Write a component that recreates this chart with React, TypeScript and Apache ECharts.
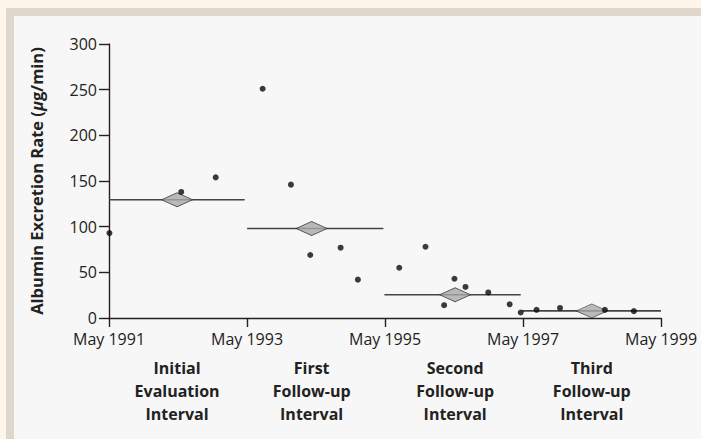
import React, { useEffect, useRef } from "react";
import * as echarts from "echarts";

// Decimal years (May 1991 = 1991 + 4/12)
const START = 1991 + 4 / 12;
const END = 1999 + 4 / 12;

const tickYears = [1991, 1993, 1995, 1997, 1999];

const pointYears = [
  1991.34, 1992.38, 1992.88, 1993.56, 1993.97, 1994.25, 1994.69, 1994.94,
  1995.54, 1995.92, 1996.19, 1996.34, 1996.5, 1996.83, 1997.14, 1997.3,
  1997.53, 1997.87, 1998.52, 1998.94,
];
const pointValues = [
  93, 138, 154, 251, 146, 69, 77, 42, 55, 78, 14, 43, 34, 28, 15, 6, 9, 11, 9,
  7.5,
];

const intervalNames = [
  "Initial\nEvaluation\nInterval",
  "First\nFollow-up\nInterval",
  "Second\nFollow-up\nInterval",
  "Third\nFollow-up\nInterval",
];
const intervalStarts = [1991.333, 1993.335, 1995.325, 1997.32];
const intervalEnds = [1993.3, 1995.31, 1997.3, 1999.333];
const intervalMeans = [129.5, 98, 25.5, 7.8];
const intervalCenters = [1992.32, 1994.27, 1996.35, 1998.33];

const FONT = "Open Sans";

export default function App() {
  const ref = useRef<HTMLDivElement>(null);
  useEffect(() => {
    if (!ref.current) return;
    const chart = echarts.init(ref.current, null, { renderer: "svg" });
    const tickVals = tickYears.map((y) => y + 4 / 12);
    const lineSeries = intervalStarts.map((s, i) => ({
      type: "line",
      data: [
        [s, intervalMeans[i]],
        [intervalEnds[i], intervalMeans[i]],
      ],
      symbol: "none",
      lineStyle: { color: "#444", width: 1.6 },
      z: 2,
      silent: true,
    }));
    chart.setOption({
      animation: false,
      backgroundColor: "transparent",
      grid: { left: 109, right: 40, top: 44, bottom: 121 },
      xAxis: [
        {
          type: "value",
          min: START,
          max: END,
          axisLine: { show: true, lineStyle: { color: "#222", width: 1.4 } },
          axisTick: {
            show: true,
            length: 9,
            customValues: tickVals,
            lineStyle: { color: "#222", width: 1.4 },
          },
          axisLabel: {
            customValues: tickVals,
            formatter: (v: number) => "May " + Math.round(v - 4 / 12),
            fontFamily: FONT,
            fontSize: 16,
            lineHeight: 16,
            color: "#222",
            margin: 13,
          },
          splitLine: { show: false },
        },
        {
          type: "value",
          position: "bottom",
          offset: 30,
          min: START,
          max: END,
          axisLine: { show: false },
          axisTick: { show: false },
          axisLabel: {
            customValues: intervalCenters,
            formatter: (v: number) => {
              const idx = intervalCenters.findIndex((c) => Math.abs(c - v) < 0.01);
              return idx >= 0 ? intervalNames[idx] : "";
            },
            fontFamily: FONT,
            fontSize: 16,
            fontWeight: "bold",
            color: "#222",
            lineHeight: 23,
            margin: 8,
          },
          splitLine: { show: false },
        },
      ],
      yAxis: {
        type: "value",
        min: 0,
        max: 300,
        interval: 50,
        axisLine: { show: true, lineStyle: { color: "#222", width: 1.4 } },
        axisTick: { show: true, length: 10, lineStyle: { color: "#222", width: 1.4 } },
        axisLabel: {
          fontFamily: FONT,
          fontSize: 16,
          lineHeight: 12,
          color: "#222",
          margin: 12,
        },
        splitLine: { show: false },
        name: "{b|Albumin Excretion Rate (}{i|μ}{b|g/min)}",
        nameLocation: "middle",
        nameGap: 64,
        nameTextStyle: {
          rich: {
            b: { fontFamily: FONT, fontSize: 16.5, fontWeight: "bold", color: "#222" },
            i: {
              fontFamily: FONT,
              fontSize: 16.5,
              fontWeight: "bold",
              fontStyle: "italic",
              color: "#222",
            },
          },
        },
      },
      series: [
        ...lineSeries,
        {
          type: "scatter",
          data: intervalCenters.map((c, i) => [c, intervalMeans[i]]),
          symbol: "diamond",
          symbolSize: [31, 14],
          itemStyle: { color: "#a9a9a9", borderColor: "#333", borderWidth: 1 },
          z: 3,
          silent: true,
        },
        {
          type: "scatter",
          data: pointYears.map((x, i) => [x, pointValues[i]]),
          symbol: "circle",
          symbolSize: 6,
          itemStyle: { color: "#0a0a0a" },
          z: 4,
          silent: true,
        },
      ],
    });
    return () => chart.dispose();
  }, []);
  return (
    <div
      style={{
        position: "fixed",
        left: 0,
        top: 0,
        width: 701,
        height: 439,
        background: "#fef6e8",
        overflow: "hidden",
      }}
    >
      <div
        style={{
          position: "absolute",
          left: 6,
          top: 8,
          width: 695,
          height: 431,
          background: "#e0d7cc",
        }}
      />
      <div
        style={{
          position: "absolute",
          left: 14,
          top: 16,
          width: 687,
          height: 423,
          background: "#f7f7f7",
        }}
      />
      <div
        ref={ref}
        style={{ position: "absolute", left: 0, top: 0, width: 701, height: 439 }}
      />
    </div>
  );
}
